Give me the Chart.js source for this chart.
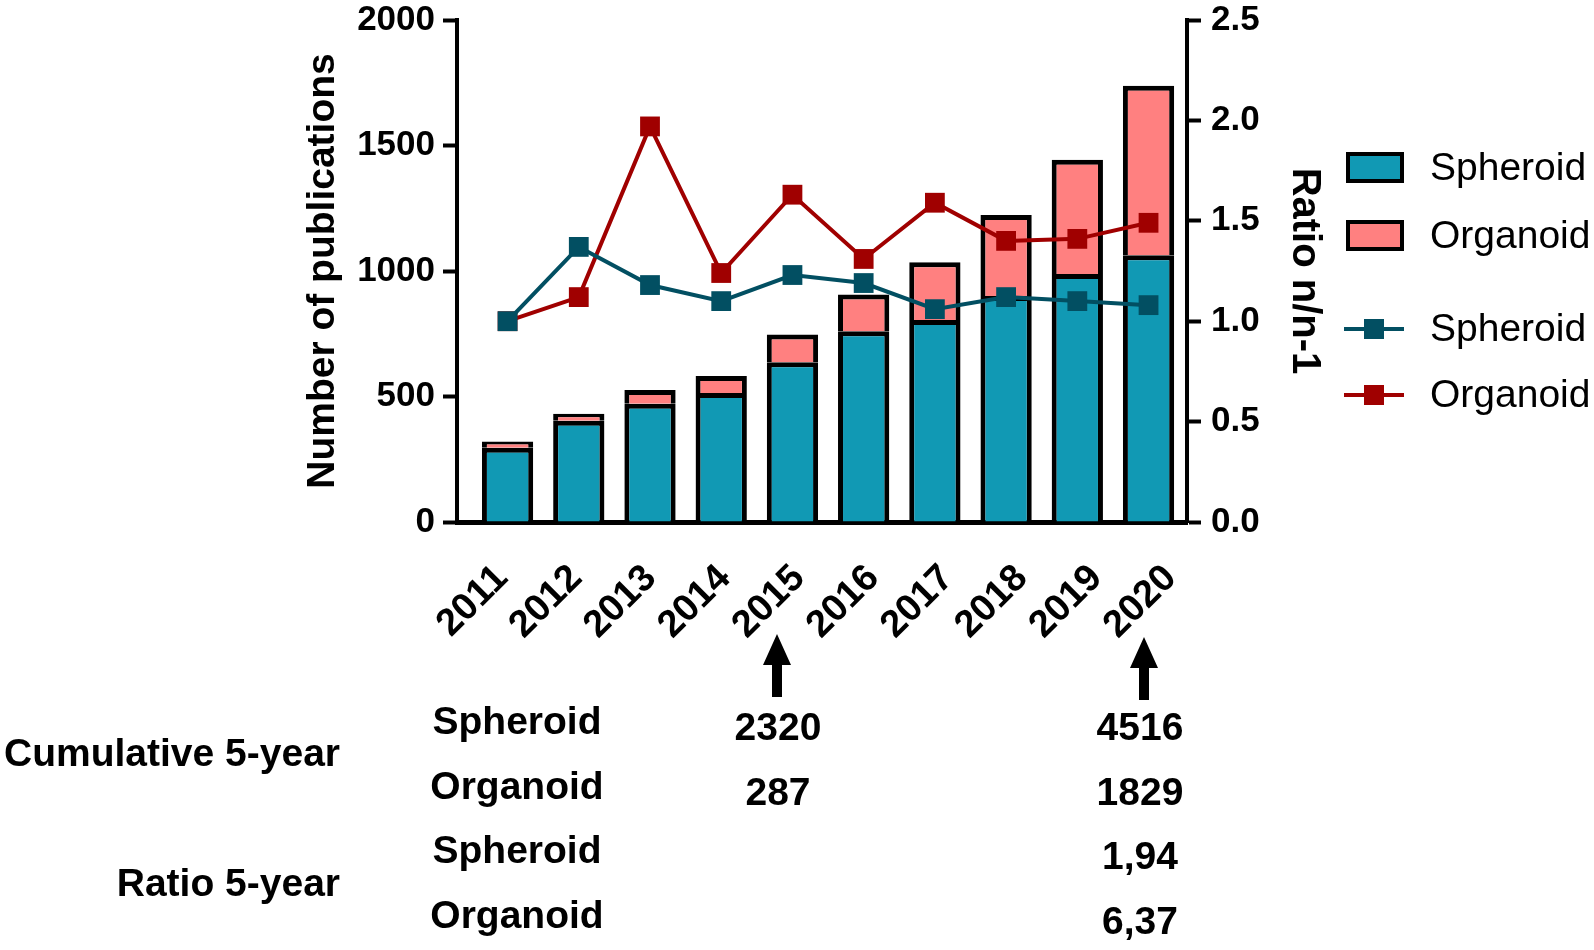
<!DOCTYPE html>
<html>
<head>
<meta charset="utf-8">
<title>Spheroid / Organoid publications 2011-2020</title>
<script src="https://cdn.jsdelivr.net/npm/chart.js@4.4.0/dist/chart.umd.min.js"></script>
<style>
  html, body { margin: 0; padding: 0; background: #fff; }
  #wrap { width: 1594px; height: 950px; }
</style>
</head>
<body>
<div id="wrap"><canvas id="pubChart" width="1594" height="950"></canvas></div>
<script>
// --- data ---
const years = [2011, 2012, 2013, 2014, 2015, 2016, 2017, 2018, 2019, 2020];
const spheroidPubs = [296, 403, 471, 514, 636, 760, 805, 900, 988, 1063];
const organoidPubs = [25, 28, 55, 68, 111, 146, 230, 323, 455, 675];
const spheroidRatio = [1.00, 1.37, 1.18, 1.10, 1.23, 1.19, 1.06, 1.12, 1.10, 1.08];
const organoidRatio = [1.00, 1.12, 1.97, 1.24, 1.63, 1.31, 1.59, 1.40, 1.41, 1.49];

const leftTicks = [0, 500, 1000, 1500, 2000];
const rightTicks = [0, 0.5, 1.0, 1.5, 2.0, 2.5];
const rightTickLabels = ['0.0', '0.5', '1.0', '1.5', '2.0', '2.5'];

// table under the chart
const tableGroups = ['Cumulative 5-year', 'Ratio 5-year'];
const tableRows = ['Spheroid', 'Organoid', 'Spheroid', 'Organoid'];
const col2015 = ['2320', '287', '', ''];
const col2020 = ['4516', '1829', '1,94', '6,37'];

// --- style ---
const FONT = '"Liberation Sans", Arial, Helvetica, sans-serif';
const TEAL = '#1199b4';
const PINK = '#ff8080';
const TEAL_DARK = '#024f62';
const RED_DARK = '#a00000';

Chart.defaults.font.family = FONT;
Chart.defaults.color = '#000';

// legend, arrows and table are drawn by hand on the canvas
const extrasPlugin = {
    id: 'extras',
    afterDraw(chart) {
        const ctx = chart.ctx;
        ctx.save();

        // legend
        const legendItems = [
            { label: 'Spheroid', kind: 'bar', color: TEAL, y: 168 },
            { label: 'Organoid', kind: 'bar', color: PINK, y: 236 },
            { label: 'Spheroid', kind: 'line', color: TEAL_DARK, y: 329 },
            { label: 'Organoid', kind: 'line', color: RED_DARK, y: 395 }
        ];
        legendItems.forEach(item => {
            if (item.kind === 'bar') {
                ctx.fillStyle = '#000';
                ctx.fillRect(1346, item.y - 16, 58, 31);
                ctx.fillStyle = item.color;
                ctx.fillRect(1350, item.y - 12, 50, 23);
            } else {
                ctx.strokeStyle = item.color;
                ctx.lineWidth = 4;
                ctx.beginPath();
                ctx.moveTo(1344, item.y);
                ctx.lineTo(1404, item.y);
                ctx.stroke();
                ctx.fillStyle = item.color;
                ctx.fillRect(1364, item.y - 10, 20, 20);
            }
            ctx.fillStyle = '#000';
            ctx.font = '39px ' + FONT;
            ctx.textAlign = 'left';
            ctx.textBaseline = 'middle';
            ctx.fillText(item.label, 1430, item.y + 1);
        });

        // arrows under 2015 and 2020
        const arrows = [{ x: 777, tip: 634, base: 665, end: 697 }, { x: 1144, tip: 637, base: 668, end: 700 }];
        ctx.fillStyle = '#000';
        arrows.forEach(a => {
            ctx.beginPath();
            ctx.moveTo(a.x, a.tip);
            ctx.lineTo(a.x + 14, a.base);
            ctx.lineTo(a.x + 5, a.base);
            ctx.lineTo(a.x + 5, a.end);
            ctx.lineTo(a.x - 5, a.end);
            ctx.lineTo(a.x - 5, a.base);
            ctx.lineTo(a.x - 14, a.base);
            ctx.closePath();
            ctx.fill();
        });

        // table
        ctx.font = 'bold 39px ' + FONT;
        ctx.textBaseline = 'middle';
        ctx.textAlign = 'right';
        ctx.fillText(tableGroups[0], 340, 755);
        ctx.fillText(tableGroups[1], 340, 885);

        const labelY = [723, 788, 852, 917];
        const valueY = [729, 794, 858, 923];
        ctx.textAlign = 'center';
        tableRows.forEach((r, i) => ctx.fillText(r, 517, labelY[i]));
        col2015.forEach((v, i) => ctx.fillText(v, 778, valueY[i]));
        col2020.forEach((v, i) => ctx.fillText(v, 1140, valueY[i]));

        ctx.restore();
    }
};

// vertical scales: fixed width, no extra top/bottom padding from tick labels
function fitVertical(width) {
    return s => {
        s.width = width;
        s.paddingTop = 0;
        s.paddingBottom = 0;
    };
}

const yearTicks = s => { s.ticks = years.map(v => ({ value: v })); };

const ctx = document.getElementById('pubChart');

new Chart(ctx, {
    type: 'bar',
    data: {
        labels: years,
        datasets: [
            {
                type: 'line',
                label: 'Spheroid',
                data: spheroidRatio,
                yAxisID: 'y1',
                order: 0,
                borderColor: TEAL_DARK,
                backgroundColor: TEAL_DARK,
                borderWidth: 4,
                tension: 0,
                pointStyle: 'rect',
                pointRadius: 14,
                pointBorderWidth: 0,
                pointBackgroundColor: TEAL_DARK
            },
            {
                type: 'line',
                label: 'Organoid',
                data: organoidRatio,
                yAxisID: 'y1',
                order: 1,
                borderColor: RED_DARK,
                backgroundColor: RED_DARK,
                borderWidth: 4,
                tension: 0,
                pointStyle: 'rect',
                pointRadius: 14,
                pointBorderWidth: 0,
                pointBackgroundColor: RED_DARK
            },
            {
                label: 'Spheroid',
                data: spheroidPubs,
                yAxisID: 'y',
                order: 2,
                backgroundColor: TEAL,
                borderColor: '#000',
                borderWidth: { top: 5, left: 5, right: 5, bottom: 0 },
                borderSkipped: false
            },
            {
                label: 'Organoid',
                data: organoidPubs,
                yAxisID: 'y',
                order: 2,
                backgroundColor: PINK,
                borderColor: '#000',
                borderWidth: { top: 5, left: 5, right: 5, bottom: 0 },
                borderSkipped: false
            }
        ]
    },
    options: {
        responsive: false,
        animation: false,
        devicePixelRatio: 1,
        layout: { padding: { left: 296, right: 262, top: 20, bottom: 308 } },
        plugins: {
            legend: { display: false },
            tooltip: { enabled: false }
        },
        scales: {
            // axis the bars sit on: baseline only
            x: {
                type: 'linear',
                offset: false,
                min: 2010.29,
                max: 2020.54,
                stacked: true,
                afterBuildTicks: yearTicks,
                afterFit: s => { s.height = 0; },
                grid: { display: false, drawTicks: false, offset: false },
                border: { display: true, width: 5, color: '#000' },
                ticks: { display: false }
            },
            // year labels, spaced a little wider than the bars as in the figure
            xLabels: {
                type: 'linear',
                position: 'bottom',
                offset: false,
                min: 2010.395,
                max: 2020.223,
                afterBuildTicks: yearTicks,
                afterFit: s => { s.height = 120; },
                grid: { display: false, drawTicks: false },
                border: { display: false },
                ticks: {
                    autoSkip: false,
                    minRotation: 45,
                    maxRotation: 45,
                    padding: 34,
                    color: '#000',
                    font: { size: 38, weight: 'bold' },
                    callback: v => String(v)
                }
            },
            y: {
                position: 'left',
                stacked: true,
                min: 0,
                max: 2000,
                afterBuildTicks: s => { s.ticks = leftTicks.map(v => ({ value: v })); },
                afterFit: fitVertical(161),
                grid: {
                    drawOnChartArea: false,
                    drawTicks: true,
                    tickLength: 14,
                    tickWidth: 4,
                    tickColor: '#000',
                    color: '#000'
                },
                border: { display: true, width: 4, color: '#000' },
                ticks: {
                    padding: 8,
                    color: '#000',
                    font: { size: 35, weight: 'bold', lineHeight: 1 },
                    callback: v => String(v)
                },
                title: {
                    display: true,
                    text: 'Number of publications',
                    color: '#000',
                    padding: 4,
                    font: { size: 39, weight: 'bold' }
                }
            },
            y1: {
                position: 'right',
                min: 0,
                max: 2.5,
                afterBuildTicks: s => { s.ticks = rightTicks.map(v => ({ value: v })); },
                afterFit: fitVertical(145),
                grid: {
                    drawOnChartArea: false,
                    drawTicks: true,
                    tickLength: 14,
                    tickWidth: 4,
                    tickColor: '#000',
                    color: '#000'
                },
                border: { display: true, width: 4, color: '#000' },
                ticks: {
                    padding: 10,
                    color: '#000',
                    font: { size: 35, weight: 'bold', lineHeight: 1 },
                    callback: (v, i) => rightTickLabels[i]
                },
                title: {
                    display: true,
                    text: 'Ratio n/n-1',
                    color: '#000',
                    padding: 4,
                    font: { size: 40, weight: 'bold' }
                }
            }
        }
    },
    plugins: [extrasPlugin]
});
</script>
</body>
</html>
